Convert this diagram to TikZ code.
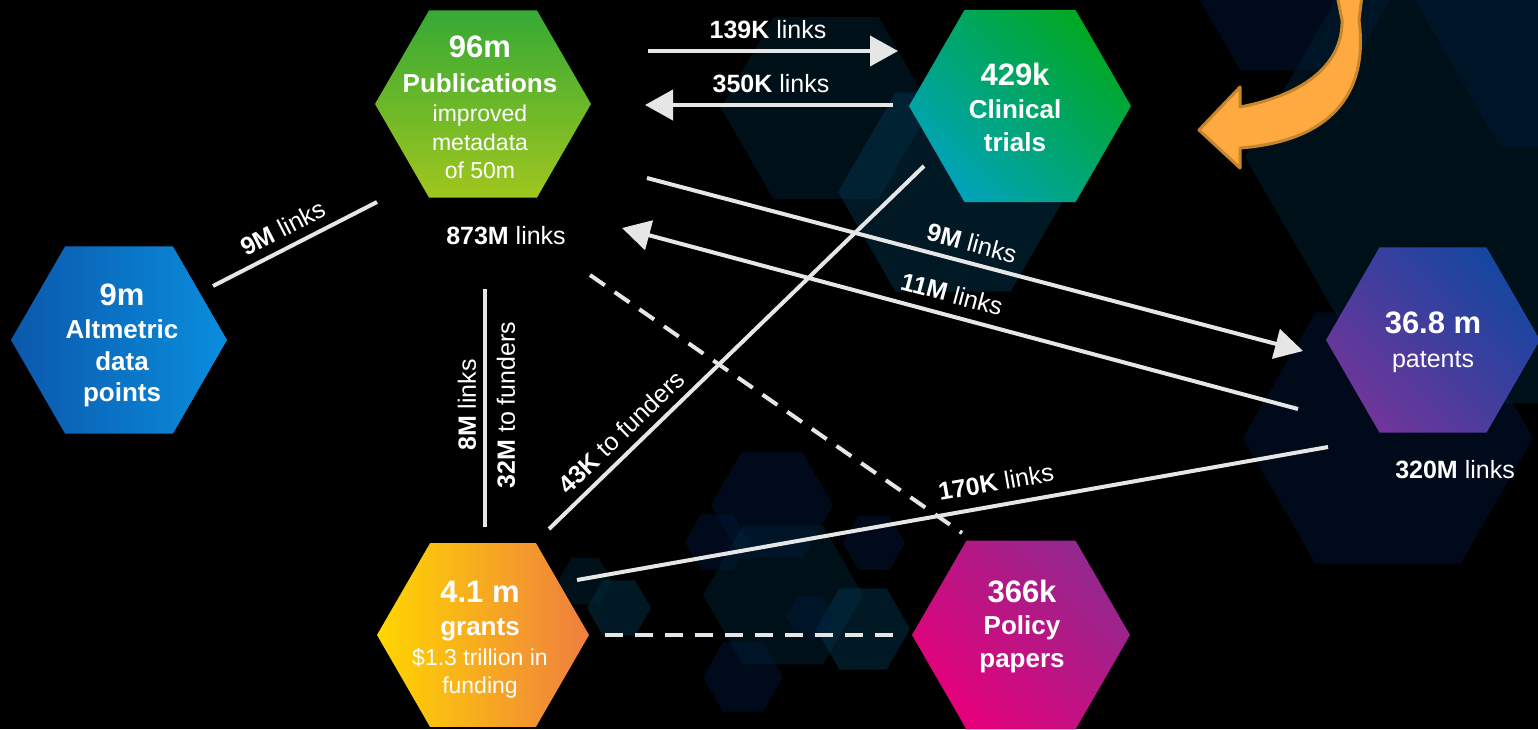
\documentclass[tikz,border=0pt]{standalone}
\usepackage{fontspec}
\setmainfont{Liberation Sans}
\usetikzlibrary{shapes.geometric,arrows.meta}
\definecolor{linkc}{HTML}{E6E6E6}
\definecolor{navyf}{HTML}{001A3E}
\definecolor{tealf}{HTML}{00283C}
\definecolor{tealg}{HTML}{003C58}
\definecolor{orfill}{HTML}{FFAA40}
\definecolor{ordraw}{HTML}{C8862A}
\definecolor{pubtop}{HTML}{36A935}
\definecolor{pubbot}{HTML}{A0C61E}
\definecolor{clA}{HTML}{00A3B8}
\definecolor{clB}{HTML}{00A824}
\definecolor{alA}{HTML}{0B58AC}
\definecolor{alB}{HTML}{0A8EDD}
\definecolor{paA}{HTML}{70359A}
\definecolor{paB}{HTML}{1546A0}
\definecolor{grA}{HTML}{FFD600}
\definecolor{grB}{HTML}{EF7E40}
\definecolor{poA}{HTML}{E5007A}
\definecolor{poB}{HTML}{93288E}
\newcommand{\bghex}[4]{\fill[#4] (#1,#2) +(0:#3) -- +(60:#3) -- +(120:#3) -- +(180:#3) -- +(240:#3) -- +(300:#3) -- cycle;}
\begin{document}
\begin{tikzpicture}[x=1pt,y=-1pt,
  hex/.style={regular polygon, regular polygon sides=6, inner sep=0pt, outer sep=0pt, draw=none},
  num/.style={text=white, inner sep=0pt, anchor=base, font=\bfseries\fontsize{31}{31}\selectfont},
  bld/.style={text=white, inner sep=0pt, anchor=base, font=\bfseries\fontsize{26}{26}\selectfont},
  rgl/.style={text=white, inner sep=0pt, anchor=base, font=\fontsize{23}{23}\selectfont},
  lab/.style={text=white, inner sep=0pt, font=\fontsize{25}{25}\selectfont},
  link/.style={draw=linkc, line width=4pt},
  arr/.style={link, -{Triangle[length=28pt,width=30pt,fill=linkc]}},
  dashlink/.style={link, dash pattern=on 18pt off 12pt},
  bgn/.style={fill=navyf, fill opacity=0.42},
  bgt/.style={fill=tealf, fill opacity=0.42},
  bgl/.style={fill=tealg, fill opacity=0.42}]
\useasboundingbox (0,0) rectangle (1538,729);
\clip (0,0) rectangle (1538,729);
\fill[black] (0,0) rectangle (1538,729);
% background hexagons
\bghex{1529}{157}{284}{bgt}
\bghex{1600}{-26}{200}{bgn}
\bghex{1295}{-24}{109}{bgn}
\bghex{1388}{438}{145}{bgn}
\bghex{826}{108}{105}{bgt}
\bghex{953}{192}{115}{bgl}
\bghex{772}{505}{61}{bgn}
\bghex{717}{542}{32}{bgn}
\bghex{783}{595}{80}{bgt}
\bghex{874}{543}{31}{bgn}
\bghex{863}{629}{47}{bgl}
\bghex{810}{617}{24}{bgn}
\bghex{743}{677}{40}{bgn}
\bghex{619}{608}{32}{bgl}
\bghex{585}{581}{27}{bgt}
% orange curved arrow
\filldraw[fill=orfill, draw=ordraw, line width=3pt, line join=round]
  (1199,130) -- (1240,87) -- (1240,107) .. controls (1308,94) and (1343,62) .. (1342,20)
  -- (1337,-5) -- (1362,-5) -- (1359,20) .. controls (1370,105) and (1318,142) .. (1240,148)
  -- (1240,168) -- cycle;
% hexagon nodes
\node[hex, minimum size=216pt, top color=pubtop, bottom color=pubbot] (pub) at (483,104) {};
\node[hex, minimum size=222pt, top color=clA, bottom color=clB, shading angle=135] (cli) at (1020,106) {};
\node[hex, minimum size=216pt, left color=alA, right color=alB] (alt) at (119,340) {};
\node[hex, minimum size=214pt, top color=paA, bottom color=paB, shading angle=135] (pat) at (1433,340) {};
\node[hex, minimum size=212pt, left color=grA, right color=grB] (gra) at (483,635) {};
\node[hex, minimum size=218pt, top color=poA, bottom color=poB, shading angle=135] (pol) at (1021,635) {};
% hexagon texts
\node[num] (pub1) at (480,57) {96m};
\node[bld] (pub2) at (480,92) {Publications};
\node[rgl] (pub3) at (480,121) {improved};
\node[rgl] (pub4) at (480,150) {metadata};
\node[rgl] (pub5) at (480,178) {of 50m};
\node[num] (cli1) at (1015,85) {429k};
\node[bld] (cli2) at (1015,118) {Clinical};
\node[bld] (cli3) at (1015,151) {trials};
\node[num] (alt1) at (122,305) {9m};
\node[bld] (alt2) at (122,338) {Altmetric};
\node[bld] (alt3) at (122,370) {data};
\node[bld] (alt4) at (122,401) {points};
\node[num] (pat1) at (1433,333) {36.8 m};
\node[rgl, font=\fontsize{25}{25}\selectfont] (pat2) at (1433,367) {patents};
\node[num] (gra1) at (480,602) {4.1 m};
\node[bld] (gra2) at (480,635) {grants};
\node[rgl] (gra3) at (480,665) {\$1.3 trillion in};
\node[rgl] (gra4) at (480,693) {funding};
\node[num] (pol1) at (1022,602) {366k};
\node[bld] (pol2) at (1022,634) {Policy};
\node[bld] (pol3) at (1022,667) {papers};
% connector end points
\coordinate (a139s) at (648,51);  \coordinate (a139e) at (898,51);
\coordinate (a350s) at (893,105); \coordinate (a350e) at (645,105);
\coordinate (a9rs) at (647,178);  \coordinate (a9re) at (1303,351);
\coordinate (a11s) at (1298,409); \coordinate (a11e) at (622,228);
\coordinate (a9ls) at (213,286);  \coordinate (a9le) at (377,202);
\coordinate (v8s) at (485,289);   \coordinate (v8e) at (485,527);
\coordinate (a43s) at (549,529);  \coordinate (a43e) at (924,166);
\coordinate (d1s) at (590,275);   \coordinate (d1e) at (962,533);
\coordinate (a170s) at (577,580); \coordinate (a170e) at (1328,447);
\coordinate (d2s) at (605,635);   \coordinate (d2e) at (898,635);
% connectors
\draw[arr] (a139s) -- (a139e);
\draw[arr] (a350s) -- (a350e);
\draw[arr] (a9rs) -- (a9re);
\draw[arr] (a11s) -- (a11e);
\draw[link] (a9ls) -- (a9le);
\draw[link] (v8s) -- (v8e);
\draw[link] (a43s) -- (a43e);
\draw[dashlink] (d1s) -- (d1e);
\draw[link] (a170s) -- (a170e);
\draw[dashlink] (d2s) -- (d2e);
% link labels
\node[lab] (l139) at (768,30) {\textbf{139K} links};
\node[lab] (l350) at (771,84) {\textbf{350K} links};
\node[lab, rotate=-15] (l9r) at (972,243) {\textbf{9M} links};
\node[lab, rotate=-15] (l11) at (952,294) {\textbf{11M} links};
\node[lab, rotate=27] (l9l) at (283,228) {\textbf{9M} links};
\node[lab, rotate=90] (l8) at (467,405) {\textbf{8M} links};
\node[lab, rotate=90] (l32) at (506,405) {\textbf{32M} to funders};
\node[lab, rotate=44] (l43) at (621,432) {\textbf{43K} to funders};
\node[lab, rotate=10] (l170) at (996,482) {\textbf{170K} links};
\node[lab] (l873) at (506,236) {\textbf{873M} links};
\node[lab] (l320) at (1455,470) {\textbf{320M} links};
\end{tikzpicture}
\end{document}
